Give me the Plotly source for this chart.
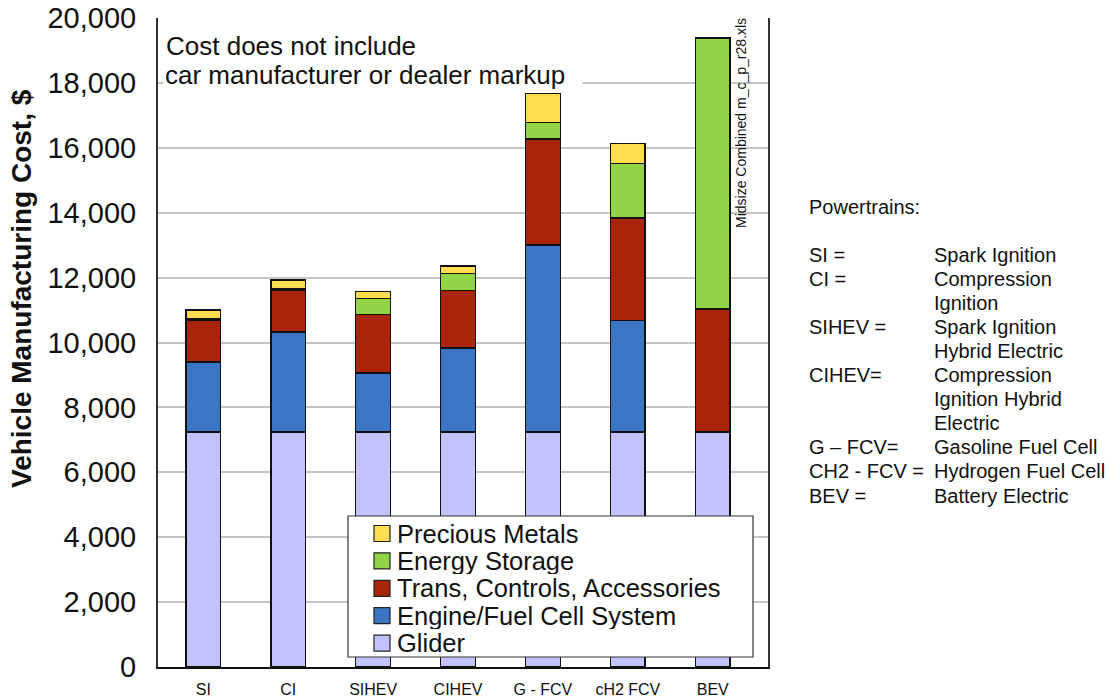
import plotly.graph_objects as go

# Vehicle manufacturing cost by powertrain (midsize car), $ per vehicle
categories = ["SI", "CI", "SIHEV", "CIHEV", "G - FCV", "cH2 FCV", "BEV"]

glider = [7240, 7240, 7240, 7240, 7240, 7240, 7240]
engine_fc = [2160, 3090, 1820, 2590, 5770, 3440, 0]
trans_ctrl = [1290, 1290, 1800, 1780, 3260, 3150, 3800]
energy_storage = [40, 40, 490, 510, 510, 1690, 8340]
precious_metals = [270, 260, 215, 235, 890, 610, 0]

series_names = ["Glider", "Engine/Fuel Cell System", "Trans, Controls, Accessories",
                "Energy Storage", "Precious Metals"]
series_values = [glider, engine_fc, trans_ctrl, energy_storage, precious_metals]
series_colors = ["#C2C2FE", "#3A76C4", "#A8240B", "#92D446", "#FFDC52"]

y_ticks = [0, 2000, 4000, 6000, 8000, 10000, 12000, 14000, 16000, 18000, 20000]

key_title = "Powertrains:"
key_rows = [
    ("SI =", "Spark Ignition"),
    ("CI =", "Compression"),
    ("", "Ignition"),
    ("SIHEV =", "Spark Ignition"),
    ("", "Hybrid Electric"),
    ("CIHEV=", "Compression"),
    ("", "Ignition Hybrid"),
    ("", "Electric"),
    ("G \u2013 FCV=", "Gasoline Fuel Cell"),
    ("CH2 - FCV =", "Hydrogen Fuel Cell"),
    ("BEV =", "Battery Electric"),
]

FONT = "Liberation Sans, Arial, Helvetica, sans-serif"
W, H = 1115, 698
L, R, T, B = 158, 768, 18, 667  # plot-area edges in pixels


def px(x):
    return (x - L) / (R - L)


def py(y):
    return (B - y) / (B - T)


fig = go.Figure()
for name, vals, col in zip(series_names, series_values, series_colors):
    fig.add_trace(go.Bar(
        x=categories, y=vals, name=name, width=0.41,
        marker=dict(color=col, line=dict(color="#111111", width=1.5)),
        showlegend=False,
    ))

annotations = []
shapes = []

# y-axis title (sits above the plot's vertical centre)
annotations.append(dict(
    xref="paper", yref="paper", x=px(22), y=py(289), xanchor="center", yanchor="middle",
    text="<b>Vehicle Manufacturing Cost, $</b>", textangle=-90, showarrow=False,
    font=dict(family=FONT, size=28, color="#111111"),
))

# note at the top left of the plot; second line blanks the gridline behind it
annotations.append(dict(
    xref="paper", yref="paper", x=px(164), y=py(46), xanchor="left", yanchor="middle",
    text="Cost does not include", align="left", showarrow=False,
    font=dict(family=FONT, size=26, color="#111111"),
))
annotations.append(dict(
    xref="paper", yref="paper", x=px(163), y=py(75), xanchor="left", yanchor="middle",
    text="car manufacturer or dealer markup", align="left", showarrow=False,
    width=416, height=30, bgcolor="white", borderpad=1,
    font=dict(family=FONT, size=26, color="#111111"),
))

# source file tag, rotated
annotations.append(dict(
    xref="paper", yref="paper", x=px(741), y=py(16), xanchor="center", yanchor="top",
    text="Midsize Combined m_c_p_r28.xls", textangle=-90, showarrow=False,
    font=dict(family=FONT, size=14, color="#111111"),
))

# legend panel (top entry = top of stack)
lg_left, lg_top, lg_right, lg_bottom = 348, 516, 753, 657
shapes.append(dict(type="rect", xref="paper", yref="paper",
                   x0=px(lg_left), x1=px(lg_right), y0=py(lg_bottom), y1=py(lg_top),
                   fillcolor="white", line=dict(color="#333333", width=1.2), layer="above"))
row_y = 533.5
for name, col in zip(series_names[::-1], series_colors[::-1]):
    shapes.append(dict(type="rect", xref="paper", yref="paper",
                       x0=px(374), x1=px(390), y0=py(row_y + 8), y1=py(row_y - 8),
                       fillcolor=col, line=dict(color="#222222", width=1.2), layer="above"))
    annotations.append(dict(
        xref="paper", yref="paper", x=px(395), y=py(row_y), xanchor="left", yanchor="middle",
        text=name, showarrow=False, height=26,
        font=dict(family=FONT, size=25.5, color="#111111"),
    ))
    row_y += 27.4

# powertrain key on the right
KEY_SIZE = 20
annotations.append(dict(
    xref="paper", yref="paper", x=px(807), y=py(207), xanchor="left", yanchor="middle",
    text=key_title, showarrow=False, font=dict(family=FONT, size=KEY_SIZE, color="#111111"),
))
row_y = 254.5
for abbr, desc in key_rows:
    if abbr:
        annotations.append(dict(
            xref="paper", yref="paper", x=px(807), y=py(row_y), xanchor="left", yanchor="middle",
            text=abbr, showarrow=False, height=23,
            font=dict(family=FONT, size=KEY_SIZE, color="#111111"),
        ))
    annotations.append(dict(
        xref="paper", yref="paper", x=px(932), y=py(row_y), xanchor="left", yanchor="middle",
        text=desc, showarrow=False, height=23,
        font=dict(family=FONT, size=KEY_SIZE, color="#111111"),
    ))
    row_y += 24.05

fig.update_layout(
    width=W, height=H,
    margin=dict(l=L, r=W - R, t=T, b=H - B, pad=0, autoexpand=False),
    paper_bgcolor="white", plot_bgcolor="white",
    barmode="stack", bargap=0.5,
    showlegend=False,
    font=dict(family=FONT, color="#111111"),
    annotations=annotations, shapes=shapes,
)
fig.update_xaxes(
    type="category", range=[-0.534, 6.651], automargin=False,
    showline=True, linecolor="#111111", linewidth=2, mirror=False,
    showgrid=False, ticks="", ticklabelstandoff=7,
    tickfont=dict(family=FONT, size=16, color="#111111"),
)
fig.update_yaxes(
    range=[0, 20000], tickvals=y_ticks, tickformat=",", automargin=False,
    showline=True, linecolor="#333333", linewidth=2, mirror=True,
    showgrid=True, gridcolor="#C4C4C4", gridwidth=1.5,
    zeroline=False, ticks="", ticklabelstandoff=14,
    tickfont=dict(family=FONT, size=29, color="#111111"),
)

fig.write_html("out.html")
